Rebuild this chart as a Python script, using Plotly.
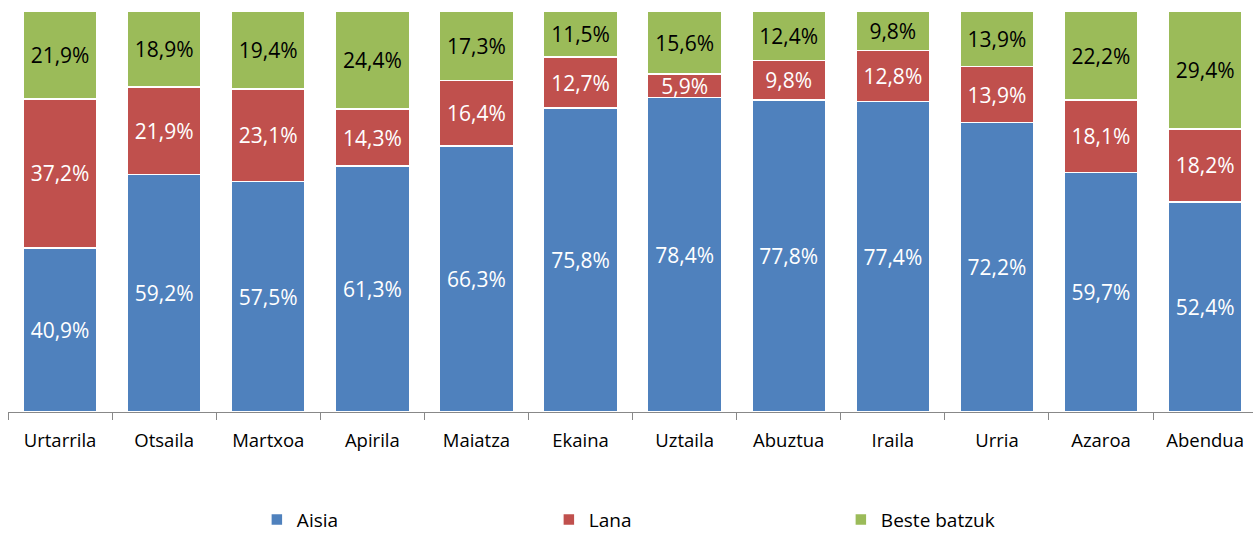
import plotly.graph_objects as go

months = ["Urtarrila", "Otsaila", "Martxoa", "Apirila", "Maiatza", "Ekaina",
          "Uztaila", "Abuztua", "Iraila", "Urria", "Azaroa", "Abendua"]
aisia = [40.9, 59.2, 57.5, 61.3, 66.3, 75.8, 78.4, 77.8, 77.4, 72.2, 59.7, 52.4]
lana = [37.2, 21.9, 23.1, 14.3, 16.4, 12.7, 5.9, 9.8, 12.8, 13.9, 18.1, 18.2]
beste = [21.9, 18.9, 19.4, 24.4, 17.3, 11.5, 15.6, 12.4, 9.8, 13.9, 22.2, 29.4]

series = [
    ("Aisia", aisia, "#4F81BD", "white"),
    ("Lana", lana, "#C0504D", "white"),
    ("Beste batzuk", beste, "#9BBB59", "black"),
]

FONT = "Open Sans, Liberation Sans, sans-serif"

fig = go.Figure()
for name, vals, color, tcol in series:
    fig.add_trace(go.Bar(
        x=months, y=vals, name=name,
        marker=dict(color=color, line=dict(color="white", width=1.5)),
        text=[f"{v:.1f}%".replace(".", ",") for v in vals],
        textposition="inside", insidetextanchor="middle", textangle=0,
        textfont=dict(color=tcol, size=21, family=FONT),
        hoverinfo="skip",
    ))

fig.update_layout(
    barmode="stack", bargap=0.29,
    width=1253, height=533,
    margin=dict(l=7.5, r=0, t=11, b=121, autoexpand=False),
    plot_bgcolor="white", paper_bgcolor="white",
    font=dict(family=FONT, size=18.5, color="black"),
    uniformtext=dict(minsize=18, mode="show"),
    xaxis=dict(showline=True, linecolor="#888888", linewidth=1,
               range=[-0.5, 11.46], automargin=False,
               ticks="outside", tickson="boundaries", ticklen=7, tickcolor="#888888",
               ticklabelstandoff=12,
               tickfont=dict(size=18.5, family=FONT)),
    yaxis=dict(range=[0, 100], visible=False, showgrid=False, automargin=False),
    legend=dict(orientation="h", xref="container", yref="container",
                x=0.205, xanchor="left", y=0.025, yanchor="middle",
                entrywidth=247, font=dict(size=19, family=FONT),
                itemwidth=30, traceorder="normal"),
)

fig.write_html("out.html", config={"displayModeBar": False},
               post_script="document.body.style.margin='0';document.body.style.overflow='hidden';")
